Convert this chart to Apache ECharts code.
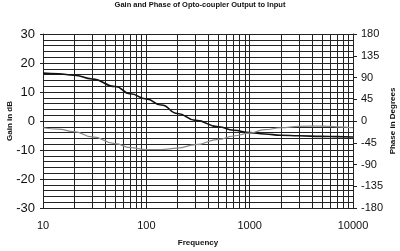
<!DOCTYPE html>
<html><head><meta charset="utf-8">
<script src="https://cdn.jsdelivr.net/npm/echarts@6/dist/echarts.min.js"></script>
<style>html,body{margin:0;padding:0;background:#fff}#c{width:400px;height:251px}</style>
</head><body><div id="c"></div>
<script>
var freqs = [10, 14, 20, 30, 50, 70, 100, 140, 200, 300, 500, 700, 1000, 1400, 2000, 3000, 5000, 7000, 10000];
var gainDb = [16.5, 16.3, 15.8, 14.5, 11.9, 9.4, 7.6, 5.5, 2.6, 0.2, -2.0, -3.2, -4.0, -4.5, -4.9, -5.1, -5.3, -5.4, -5.5];
var phaseDeg = [-14, -17, -22, -33, -47, -55, -59, -59, -56, -49, -38, -31, -25, -18, -14, -11, -10.5, -12, -14];
var minorFreqs = [20,30,40,50,60,70,80,90,200,300,400,500,600,700,800,900,2000,3000,4000,5000,6000,7000,8000,9000];
var xTickLabels = ['10','100','1000','10000'];
var title = 'Gain and Phase of Opto-coupler Output to Input';

var font = 'Liberation Sans, Arial, sans-serif';
var chart = echarts.init(document.getElementById('c'), null, {renderer:'canvas'});
function pair(xs, ys){ return xs.map(function(x,i){ return [x, ys[i]]; }); }
chart.setOption({
  animation: false,
  backgroundColor: '#fff',
  title: { text: title, left: 'center', top: 1, padding: 0,
    textStyle: { fontFamily: font, fontSize: 7.5, fontWeight: 'bold', color: '#111' } },
  grid: { left: 43, right: 47, top: 34, bottom: 43, containLabel: false, outerBoundsMode: 'none' },
  xAxis: {
    type: 'log', logBase: 10, min: 10, max: 10000,
    name: 'Frequency', nameLocation: 'middle', nameGap: 31, nameMoveOverlap: false,
    nameTextStyle: { fontFamily: font, fontSize: 8, fontWeight: 'bold', color: '#111' },
    axisLine: { show: true, lineStyle: { color: '#222', width: 1 } },
    axisTick: { show: true, length: 3, lineStyle: { color: '#222' } },
    axisLabel: { margin: 12, fontFamily: font, fontSize: 11, color: '#111',
      formatter: function(v){ var k = Math.round(Math.log10(v)) - 1; return xTickLabels[k] !== undefined ? xTickLabels[k] : ''; } },
    splitLine: { show: true, lineStyle: { color: '#222', width: 1 } },
    minorTick: { show: false }, minorSplitLine: { show: false }
  },
  yAxis: [{
    type: 'value', min: -30, max: 30, interval: 10,
    name: 'Gain in dB', nameLocation: 'middle', nameGap: 29, nameRotate: 90, nameMoveOverlap: false,
    nameTextStyle: { fontFamily: font, fontSize: 8, fontWeight: 'bold', color: '#111' },
    axisLine: { show: true, lineStyle: { color: '#222', width: 1 } },
    axisTick: { show: true, length: 3, lineStyle: { color: '#222' } },
    axisLabel: { margin: 8, fontFamily: font, fontSize: 13, color: '#111' },
    splitLine: { show: true, lineStyle: { color: '#222', width: 1 } },
    minorTick: { show: false, splitNumber: 5 },
    minorSplitLine: { show: true, lineStyle: { color: '#222', width: 1 } }
  }, {
    type: 'value', min: -180, max: 180, interval: 45, position: 'right',
    name: 'Phase in Degrees', nameLocation: 'middle', nameGap: 36, nameRotate: 90, nameMoveOverlap: false,
    nameTextStyle: { fontFamily: font, fontSize: 8, fontWeight: 'bold', color: '#111' },
    axisLine: { show: true, lineStyle: { color: '#222', width: 1 } },
    axisTick: { show: true, length: 4, lineStyle: { color: '#222' } },
    axisLabel: { margin: 8, fontFamily: font, fontSize: 11, color: '#111' },
    splitLine: { show: false }
  }],
  series: [{
    type: 'line', name: 'grid', yAxisIndex: 0, data: [], z: 1, silent: true,
    markLine: { silent: true, symbol: ['none','none'], label: { show: false },
      lineStyle: { type: 'solid', color: '#222', width: 1 }, emphasis: { disabled: true },
      data: minorFreqs.map(function(f){ return { xAxis: f }; }) }
  }, {
    type: 'line', name: 'Gain', yAxisIndex: 0, data: pair(freqs, gainDb),
    smooth: 0.5, smoothMonotone: 'x', symbol: 'none', lineStyle: { color: '#111', width: 1.6 }, z: 5
  }, {
    type: 'line', name: 'Phase', yAxisIndex: 1, data: pair(freqs, phaseDeg),
    smooth: 0.5, smoothMonotone: 'x', symbol: 'none', lineStyle: { color: '#888', width: 1.2 }, z: 6
  }]
});
</script></body></html>
